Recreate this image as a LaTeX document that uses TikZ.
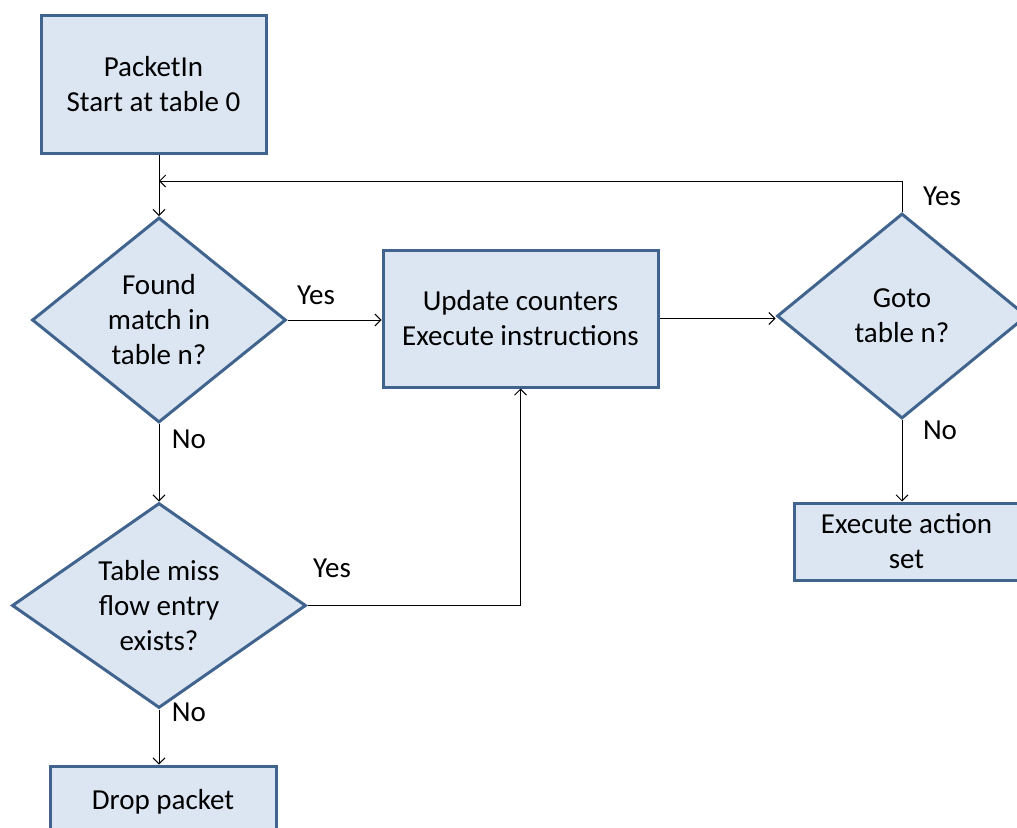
\documentclass[tikz,border=0pt]{standalone}
\usepackage{fontspec}
\setmainfont{Carlito}
\usetikzlibrary{shapes.geometric,arrows.meta}
\definecolor{boxfill}{HTML}{DCE6F2}
\definecolor{boxline}{HTML}{41648F}
\tikzset{
  stepbox/.style={draw=boxline, line width=3pt, fill=boxfill, align=center,
    inner sep=0pt},
  decision/.style={diamond, draw=boxline, line width=3pt, fill=boxfill,
    inner sep=0pt, align=center},
  flow/.style={draw=black, line width=1pt, -{Straight Barb[length=6pt,width=12pt]}},
  lbl/.style={inner sep=0pt, anchor=center},
}
\begin{document}
\begin{tikzpicture}[x=1pt, y=-1pt, font=\fontsize{29}{35}\selectfont]
\clip (0,0) rectangle (1017,827);
\fill[white] (0,0) rectangle (1017,827);

% process boxes
\node[stepbox, minimum width=225pt, minimum height=138pt] (start) at (153.5,84)
  {PacketIn\\Start at table 0};
\node[stepbox, minimum width=275pt, minimum height=137pt] (upd) at (520.5,318.5)
  {Update counters\\Execute instructions};
\node[stepbox, minimum width=225pt, minimum height=77pt] (act) at (906.5,541.5)
  {Execute action\\set};
\node[stepbox, minimum width=226pt, minimum height=138pt] (drop) at (163,835) {};
\node[lbl] (droptxt) at (163,802) {Drop packet};

% decisions
\node[decision, minimum width=254pt, minimum height=205pt,
  label={[align=center]center:Found\\match in\\table n?}] (d1) at (159,320) {};
\node[decision, minimum width=294pt, minimum height=205pt,
  label={[align=center]center:Table miss\\flow entry\\exists?}] (d2) at (159,605.5) {};
\node[decision, minimum width=250pt, minimum height=205pt,
  label={[align=center]center:Goto\\table n?}] (d3) at (902,316) {};

% connectors
\coordinate (loop) at (159,181);
\draw[flow] (start.south -| d1.north) -- (d1.north);
\draw[flow] (d3.north) |- (loop);
\draw[flow] (d1.east) -- (d1.east -| upd.west);
\draw[flow] (upd.east) -- (upd.east -| d3.west);
\draw[flow] (d1.south) -- (d2.north);
\draw[flow] (d2.east) -| (upd.south);
\draw[flow] (d2.south) -- (d2.south |- drop.north);
\draw[flow] (d3.south) -- (d3.south |- act.north);

% branch labels
\node[lbl] (y1) at (316,295) {Yes};
\node[lbl] (n1) at (189,439) {No};
\node[lbl] (y2) at (332,568) {Yes};
\node[lbl] (n2) at (189,712) {No};
\node[lbl] (y3) at (942,196) {Yes};
\node[lbl] (n3) at (940,430) {No};
\end{tikzpicture}
\end{document}
